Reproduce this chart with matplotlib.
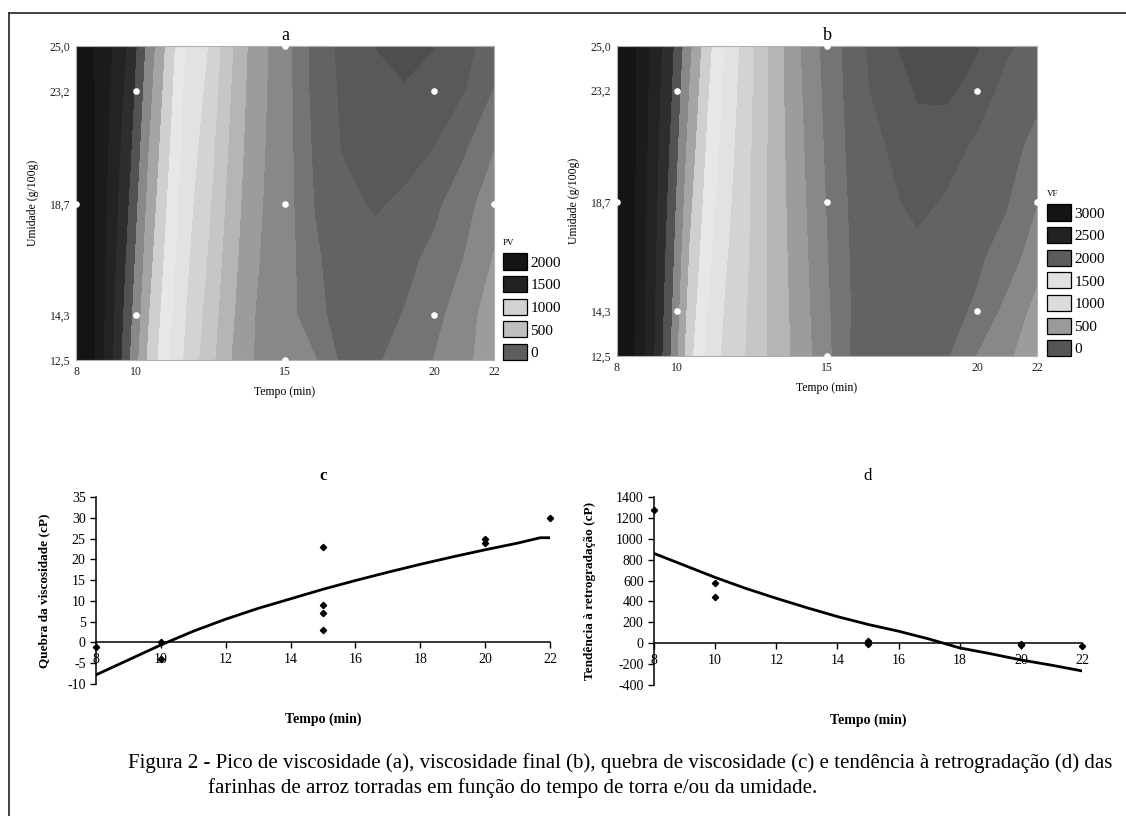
import numpy as np
import matplotlib
matplotlib.use("Agg")
from matplotlib import pyplot as plt
from matplotlib.patches import Patch
from matplotlib.lines import Line2D

plt.rcParams["font.family"] = ["Liberation Serif", "DejaVu Serif"]
plt.rcParams["axes.unicode_minus"] = False

# ===== dados das superficies (a) PV e (b) VF =====
tempo_grid = [8, 8.6, 9.2, 9.8, 10.4, 11.0, 11.6, 12.4, 13.2, 14.0, 15.0, 16.0, 17.0, 18.0, 19.0, 20.0, 21.0, 22.0]
umid_grid = [12.5, 14.3, 16.5, 18.7, 21.0, 23.2, 25.0]

pv = [
    [2200, 2004, 1761, 1494, 1228, 1030, 868, 683, 498, 365, 312, 260, 80, 105, 178, 253, 340, 450],
    [2200, 2003, 1777, 1526, 1261, 1060, 889, 711, 518, 374, 310, 160, 70, 80, 130, 215, 310, 450],
    [2200, 2003, 1797, 1566, 1302, 1096, 914, 745, 543, 386, 308, 145, 50, 55, 90, 157, 253, 383],
    [2200, 2002, 1818, 1605, 1342, 1132, 939, 779, 568, 398, 306, 118, 44, -18, 26, 96, 198, 330],
    [2200, 2001, 1839, 1646, 1384, 1169, 965, 815, 594, 410, 304, 99, -19, -60, -60, -3, 104, 240],
    [2200, 2001, 1859, 1686, 1425, 1205, 990, 849, 619, 421, 302, 81, -30, -80, -110, -75, -7, 130],
    [2200, 2000, 1875, 1718, 1458, 1235, 1011, 877, 639, 431, 300, 74, -43, -128, -200, -130, -45, 60],
]

vf = [
    [2200, 1987, 1763, 1484, 1162, 971, 840, 729, 585, 465, 280, 70, 65, 70, 110, 252, 355, 440],
    [2200, 1990, 1774, 1509, 1197, 999, 862, 737, 584, 455, 268, 85, 55, 55, 90, 140, 290, 410],
    [2200, 1994, 1786, 1539, 1239, 1034, 889, 747, 582, 443, 254, 80, 40, 40, 70, 105, 170, 330],
    [2200, 1998, 1799, 1569, 1282, 1068, 915, 756, 580, 431, 240, 70, 30, -40, 15, 70, 115, 240],
    [2200, 2002, 1813, 1601, 1327, 1104, 943, 766, 578, 418, 226, 55, -5, -95, -60, 20, 90, 150],
    [2200, 2006, 1825, 1631, 1369, 1139, 970, 776, 576, 406, 212, 45, -70, -135, -150, -80, 45, 100],
    [2200, 2009, 1836, 1656, 1404, 1167, 992, 784, 575, 396, 200, 40, -100, -180, -195, -140, -25, 60],
]

niveis = [-250, -125, 0, 125, 250, 375, 500, 625, 750, 875, 1000, 1125, 1250, 1375, 1500, 1625, 1750, 1875, 2000, 2500]
cores_niveis = ["#4e4e4e", "#595959", "#636363", "#747474", "#888888", "#9c9c9c", "#b5b5b5",
                "#c6c6c6", "#d3d3d3", "#e2e2e2", "#e7e7e7", "#cfcfcf", "#a5a5a5", "#888888",
                "#525252", "#2e2e2e", "#232323", "#1c1c1c", "#141414"]

# pontos do planejamento
pts_tempo = [10, 10, 20, 20, 15, 8, 22, 15, 15]
pts_umid = [14.3, 23.2, 14.3, 23.2, 18.7, 18.7, 18.7, 12.5, 25.0]

leg_pv_rotulos = ["2000", "1500", "1000", "500", "0"]
leg_pv_cores = ["#141414", "#222222", "#d2d2d2", "#bfbfbf", "#5e5e5e"]
leg_vf_rotulos = ["3000", "2500", "2000", "1500", "1000", "500", "0"]
leg_vf_cores = ["#141414", "#222222", "#5c5c5c", "#e2e2e2", "#dcdcdc", "#9a9a9a", "#555555"]

# ===== dados (c) quebra e (d) retrogradacao =====
c_tempo = [8, 10, 10, 15, 15, 15, 15, 20, 20, 22]
c_quebra = [-1, 0, -4, 23, 9, 7, 3, 25, 24, 30]
c_fit_t = [8, 9, 10, 11, 12, 13, 14, 15, 16, 17, 18, 19, 20, 21, 21.7, 22]
c_fit_q = [-7.8, -4.2, -0.6, 2.7, 5.6, 8.2, 10.5, 12.8, 14.9, 16.9, 18.8, 20.6, 22.3, 23.9, 25.2, 25.2]

d_tempo = [8, 10, 10, 15, 15, 15, 20, 20, 22]
d_retro = [1280, 580, 440, 20, 0, -5, -10, -15, -30]
d_fit_t = [8, 9, 10, 11, 12, 13, 14, 15, 16, 17, 18, 19, 20, 21, 22]
d_fit_r = [860, 745, 630, 525, 430, 340, 255, 180, 115, 40, -45, -100, -160, -210, -265]

W, H = 1126, 816
fig = plt.figure(figsize=(W / 100, H / 100), dpi=100)


def fx(px):
    return px / W


def fy(py):
    return 1 - py / H


def superficie(rect, z, titulo, leg_titulo, rotulos, cores, leg_pos):
    ax = fig.add_axes(rect)
    ax.contourf(tempo_grid, umid_grid, np.array(z), levels=niveis, colors=cores_niveis)
    ax.scatter(pts_tempo, pts_umid, s=14, color="white", zorder=3, clip_on=True)
    ax.set_xlim(8, 22)
    ax.set_ylim(12.5, 25)
    ax.set_xticks([8, 10, 15, 20, 22])
    ax.set_yticks([12.5, 14.3, 18.7, 23.2, 25.0])
    ax.set_yticklabels(["12,5", "14,3", "18,7", "23,2", "25,0"])
    ax.tick_params(labelsize=8.5, length=0, pad=4, colors="#222222")
    for s in ax.spines.values():
        s.set_color("#b0b0b0")
        s.set_linewidth(0.8)
    ax.set_title(titulo, fontsize=13, pad=4)
    ax.set_xlabel("Tempo (min)", fontsize=8.5, labelpad=6)
    ax.set_ylabel("Umidade (g/100g)", fontsize=8.5, labelpad=8)
    handles = [Patch(facecolor=c, edgecolor="black", linewidth=0.9) for c in cores]
    ax.legend(handles, rotulos, title=leg_titulo, loc="upper left",
              bbox_to_anchor=leg_pos, bbox_transform=fig.transFigure,
              frameon=False, fontsize=11, title_fontsize=6.5,
              handlelength=1.6, handleheight=1.25, labelspacing=0.42,
              handletextpad=0.2, borderpad=0, borderaxespad=0, alignment="left")
    return ax


superficie([fx(76), fy(360), fx(494) - fx(76), fy(46) - fy(360)], pv, "a", "PV",
           leg_pv_rotulos, leg_pv_cores, (fx(503), fy(239)))
superficie([fx(617), fy(356), fx(1037) - fx(617), fy(46) - fy(356)], vf, "b", "VF",
           leg_vf_rotulos, leg_vf_cores, (fx(1047), fy(190)))


def grafico(rect, tx, ty, ft, fyv, ylim, yticks, titulo, ylabel, tbold, ylab_x):
    ax = fig.add_axes(rect)
    ax.plot(ft, fyv, color="black", lw=2)
    ax.plot(tx, ty, "D", color="black", ms=3.2, clip_on=False)
    ax.set_xlim(8, 22)
    ax.set_ylim(*ylim)
    ax.set_xticks(range(8, 23, 2))
    ax.set_yticks(yticks)
    ax.spines["top"].set_visible(False)
    ax.spines["right"].set_visible(False)
    ax.spines["bottom"].set_position(("data", 0))
    for s in ("left", "bottom"):
        ax.spines[s].set_linewidth(1.1)
    ax.tick_params(labelsize=10, length=4, width=1, direction="out")
    ax.set_title(titulo, fontsize=12, fontweight="bold" if tbold else "normal", pad=12)
    ax.set_xlabel("Tempo (min)", fontsize=10, fontweight="bold")
    ax.xaxis.set_label_coords(0.5, -0.15)
    ax.set_ylabel(ylabel, fontsize=9.5, fontweight="bold")
    ax.yaxis.set_label_coords(ylab_x, 0.5)
    return ax


grafico([fx(96), fy(684), fx(550) - fx(96), fy(497) - fy(684)], c_tempo, c_quebra,
        c_fit_t, c_fit_q, (-10, 35), range(-10, 36, 5), "c",
        "Quebra da viscosidade (cP)", True, -0.1)
grafico([fx(654), fy(685), fx(1082) - fx(654), fy(497) - fy(685)], d_tempo, d_retro,
        d_fit_t, d_fit_r, (-400, 1400), range(-400, 1401, 200), "d",
        "Tendência à retrogradação (cP)", False, -0.135)

# legenda da figura
fig.text(fx(128), fy(763), "Figura 2 - Pico de viscosidade (a), viscosidade final (b), quebra de "
         "viscosidade (c) e tendência à retrogradação (d) das", fontsize=15, va="center")
fig.text(fx(208), fy(788), "farinhas de arroz torradas em função do tempo de torra e/ou da umidade.",
         fontsize=15, va="center")

# moldura
fig.add_artist(Line2D([fx(9), fx(9)], [0, fy(13)], transform=fig.transFigure, color="#333333", lw=1.3))
fig.add_artist(Line2D([fx(9), 1], [fy(13), fy(13)], transform=fig.transFigure, color="#333333", lw=1.3))

fig.savefig("out.png", dpi=100)
